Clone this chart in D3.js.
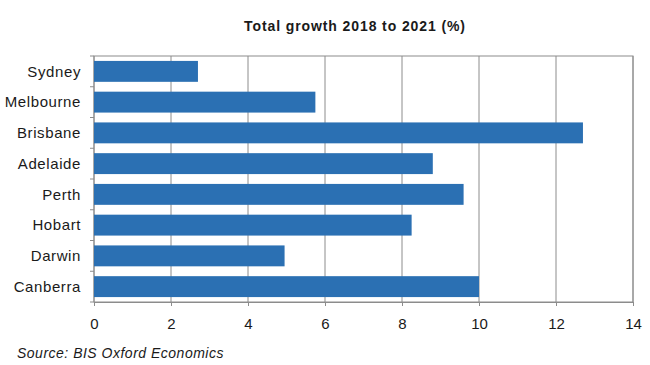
<!DOCTYPE html>
<html>
<head>
<meta charset="utf-8">
<script src="https://cdn.jsdelivr.net/npm/d3@7"></script>
<style>
  body { margin: 0; background: #fff; }
  text { font-family: "Liberation Sans", Arial, sans-serif; fill: #1a1a1a; }
</style>
</head>
<body>
<div id="barChart"></div>
<script>
var cities = ["Sydney", "Melbourne", "Brisbane", "Adelaide", "Perth", "Hobart", "Darwin", "Canberra"];
var growth = [2.7, 5.75, 12.7, 8.8, 9.6, 8.25, 4.95, 10.0];
var xTicks = [0, 2, 4, 6, 8, 10, 12, 14];

var data = cities.map(function (c, i) { return { city: c, value: growth[i] }; });

var margin = { top: 56, right: 17, bottom: 63, left: 94 },
    width = 650 - margin.left - margin.right,
    height = 365 - margin.top - margin.bottom;

var svg = d3.select("#barChart")
  .append("svg")
  .attr("width", 650)
  .attr("height", 365);

var g = svg.append("g")
  .attr("transform", "translate(" + margin.left + "," + margin.top + ")");

var x = d3.scaleLinear().domain([0, 14]).range([0, width]);
var y = d3.scaleBand().domain(cities).range([0, height]).paddingInner(0.32).paddingOuter(0.16);

// gridlines
g.selectAll(".grid")
  .data(xTicks)
  .enter()
  .append("line")
  .attr("x1", function (d) { return x(d); })
  .attr("x2", function (d) { return x(d); })
  .attr("y1", 0)
  .attr("y2", height)
  .attr("stroke", "#8c8c8c")
  .attr("stroke-width", 1);

// plot border
g.append("rect")
  .attr("x", 0).attr("y", 0)
  .attr("width", width).attr("height", height)
  .attr("fill", "none")
  .attr("stroke", "#8c8c8c");

// bars
g.selectAll(".myRect")
  .data(data)
  .enter()
  .append("rect")
  .attr("class", "myRect")
  .attr("x", 0)
  .attr("y", function (d) { return y(d.city); })
  .attr("width", function (d) { return x(d.value); })
  .attr("height", y.bandwidth())
  .attr("fill", "#2b70b3");

// y band boundary ticks
var step = height / cities.length;
g.selectAll(".ytick")
  .data(d3.range(cities.length + 1))
  .enter()
  .append("line")
  .attr("x1", -4).attr("x2", 0)
  .attr("y1", function (d) { return d * step; })
  .attr("y2", function (d) { return d * step; })
  .attr("stroke", "#8c8c8c");

// y labels
g.selectAll(".ylab")
  .data(cities)
  .enter()
  .append("text")
  .attr("x", -13)
  .attr("y", function (d) { return y(d) + y.bandwidth() / 2; })
  .attr("dy", "0.35em")
  .attr("text-anchor", "end")
  .style("font-size", "15px")
  .style("letter-spacing", "0.6px")
  .text(function (d) { return d; });

// x axis
var xAxis = d3.axisBottom(x).tickValues(xTicks).tickSize(4).tickPadding(12);
var ax = g.append("g")
  .attr("transform", "translate(0," + height + ")")
  .call(xAxis);
ax.select(".domain").attr("stroke", "#8c8c8c");
ax.selectAll(".tick line").attr("stroke", "#8c8c8c");
ax.selectAll(".tick text")
  .style("font-size", "15px")
  .style("font-family", "'Liberation Sans', Arial, sans-serif")
  .attr("fill", "#1a1a1a");

// title
svg.append("text")
  .attr("x", 355)
  .attr("y", 31)
  .attr("text-anchor", "middle")
  .style("font-size", "14px")
  .style("font-weight", "bold")
  .style("letter-spacing", "0.9px")
  .text("Total growth 2018 to 2021 (%)");

// source
svg.append("text")
  .attr("x", 17)
  .attr("y", 358)
  .style("font-size", "14px")
  .style("font-style", "italic")
  .style("letter-spacing", "0.5px")
  .attr("fill", "#333")
  .text("Source: BIS Oxford Economics");
</script>
</body>
</html>
